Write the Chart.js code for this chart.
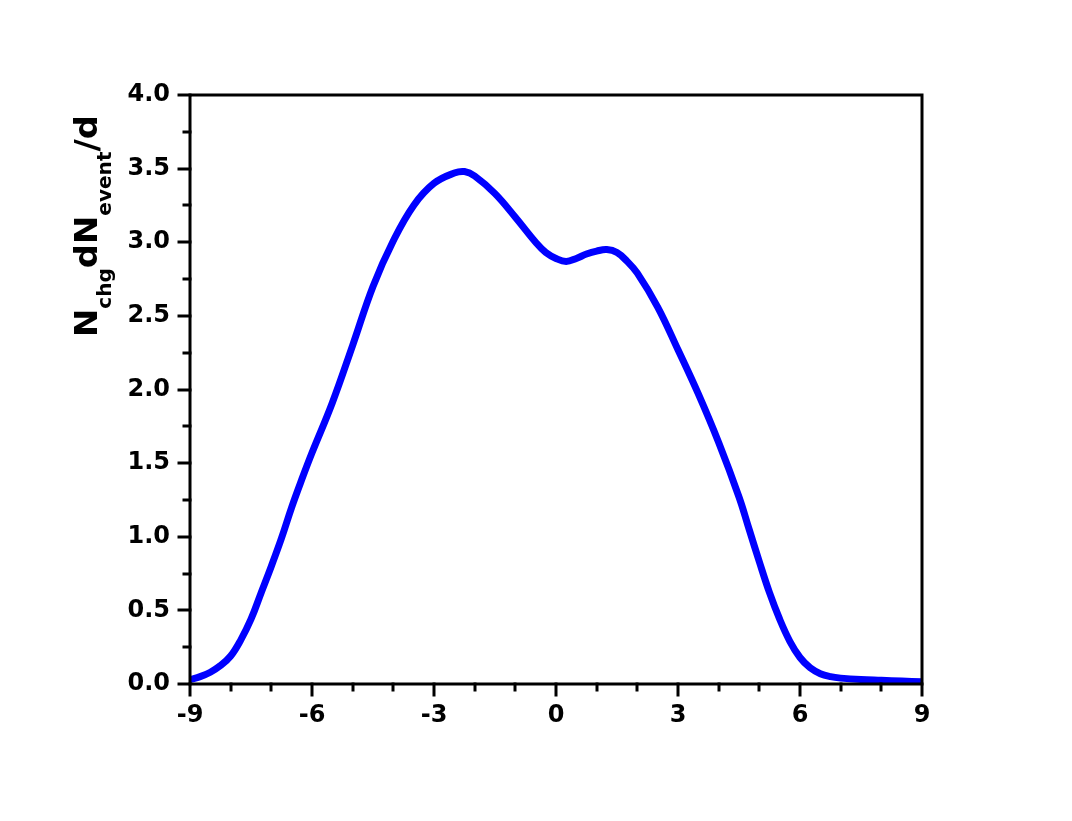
<!DOCTYPE html>
<html>
<head>
<meta charset="utf-8">
<script src="https://cdn.jsdelivr.net/npm/chart.js@4"></script>
<style>
  html, body { margin: 0; padding: 0; background: #fff; }
  #wrap { width: 1072px; height: 821px; }
</style>
</head>
<body>
<div id="wrap"><canvas id="dndeta"></canvas></div>
<script>
// pseudorapidity bins and charged density
const etaValues = [-9, -8.75, -8.5, -8.25, -8, -7.75, -7.5, -7.25, -7, -6.75, -6.5, -6.25, -6, -5.5, -5, -4.5, -4,
  -3.5, -3, -2.5, -2.25, -2, -1.5, -1, -0.5, -0.25, 0, 0.25, 0.5, 0.75, 1, 1.25, 1.5, 1.75, 2, 2.5, 3,
  3.5, 4, 4.5, 4.75, 5, 5.25, 5.5, 5.75, 6, 6.25, 6.5, 6.75, 7, 7.5, 8, 8.5, 9];
const densityValues = [0.03, 0.05, 0.08, 0.125, 0.19, 0.30, 0.44, 0.62, 0.80, 0.99, 1.20, 1.39, 1.57, 1.91, 2.30, 2.70, 3.01,
  3.25, 3.40, 3.47, 3.48, 3.45, 3.33, 3.17, 3.00, 2.93, 2.89, 2.87, 2.89, 2.92, 2.94, 2.95, 2.93, 2.87, 2.79, 2.56, 2.27,
  1.97, 1.64, 1.27, 1.05, 0.83, 0.62, 0.44, 0.29, 0.18, 0.11, 0.07, 0.05, 0.04, 0.03, 0.025, 0.02, 0.015];

const xMajorTicks = [-9, -6, -3, 0, 3, 6, 9];
const yMajorTicks = ["0.0", "0.5", "1.0", "1.5", "2.0", "2.5", "3.0", "3.5", "4.0"];

// y title pieces: [text, isSubscript]
const yTitleParts = [["N", false], ["chg", true], ["dN", false], ["event", true], ["/d", false]];

const tickFont = { family: "'DejaVu Sans', sans-serif", size: 24, weight: "bold" };

// frame + outward tick marks (major long, minor short)
const framePlugin = {
  id: "frame",
  afterDatasetsDraw(chart) {
    const { ctx, chartArea: a, scales } = chart;
    ctx.save();
    ctx.strokeStyle = "#000";
    ctx.lineWidth = 3;
    ctx.lineCap = "square";

    scales.x.ticks.forEach((t) => {
      const px = Math.round(scales.x.getPixelForValue(t.value));
      const major = xMajorTicks.includes(Math.round(t.value));
      ctx.beginPath();
      ctx.moveTo(px, a.bottom);
      ctx.lineTo(px, a.bottom + (major ? 11 : 6));
      ctx.stroke();
    });
    scales.y.ticks.forEach((t) => {
      const py = Math.round(scales.y.getPixelForValue(t.value));
      const major = Math.round(t.value * 4) % 2 === 0;
      ctx.beginPath();
      ctx.moveTo(a.left, py);
      ctx.lineTo(a.left - (major ? 11 : 6), py);
      ctx.stroke();
    });

    ctx.lineCap = "butt";
    ctx.strokeRect(a.left, a.top, a.right - a.left, a.bottom - a.top);
    ctx.restore();
  },
  afterDraw(chart) {
    // rotated y title with subscripts
    const ctx = chart.ctx;
    const mainFont = "bold 32px 'DejaVu Sans', sans-serif";
    const subFont = "bold 19px 'DejaVu Sans', sans-serif";
    ctx.save();
    let total = 0;
    yTitleParts.forEach(([txt, sub]) => {
      ctx.font = sub ? subFont : mainFont;
      total += ctx.measureText(txt).width;
    });
    const k = 222 / total;
    ctx.translate(97, 337);
    ctx.rotate(-Math.PI / 2);
    ctx.scale(k, 1);
    ctx.fillStyle = "#000";
    ctx.textBaseline = "alphabetic";
    let pos = 0;
    yTitleParts.forEach(([txt, sub]) => {
      ctx.font = sub ? subFont : mainFont;
      ctx.fillText(txt, pos, sub ? 14 : 0);
      pos += ctx.measureText(txt).width;
    });
    ctx.restore();
  },
};

new Chart(document.getElementById("dndeta"), {
  type: "line",
  data: {
    datasets: [
      {
        data: etaValues.map((x, i) => ({ x, y: densityValues[i] })),
        borderColor: "#0000ff",
        borderWidth: 7,
        pointRadius: 0,
        fill: false,
        tension: 0.4,
      },
    ],
  },
  options: {
    responsive: true,
    maintainAspectRatio: false,
    animation: false,
    layout: { padding: { left: 0, top: 95, right: 150, bottom: 0 } },
    plugins: { legend: { display: false }, tooltip: { enabled: false } },
    scales: {
      x: {
        type: "linear",
        min: -9,
        max: 9,
        grid: { display: false, drawTicks: false },
        border: { display: false },
        ticks: {
          stepSize: 1,
          autoSkip: false,
          maxRotation: 0,
          padding: 17,
          color: "#000",
          font: tickFont,
          callback: (v) => (xMajorTicks.includes(Math.round(v)) ? String(Math.round(v)) : ""),
        },
        afterFit: (s) => { s.height = 137; },
      },
      y: {
        min: 0,
        max: 4,
        grid: { display: false, drawTicks: false },
        border: { display: false },
        ticks: {
          stepSize: 0.25,
          autoSkip: false,
          padding: 20,
          color: "#000",
          font: tickFont,
          callback: (v) => {
            const q = Math.round(v * 4);
            return q % 2 === 0 ? yMajorTicks[q / 2] : "";
          },
        },
        afterFit: (s) => { s.width = 190; },
      },
    },
  },
  plugins: [framePlugin],
});
</script>
</body>
</html>
